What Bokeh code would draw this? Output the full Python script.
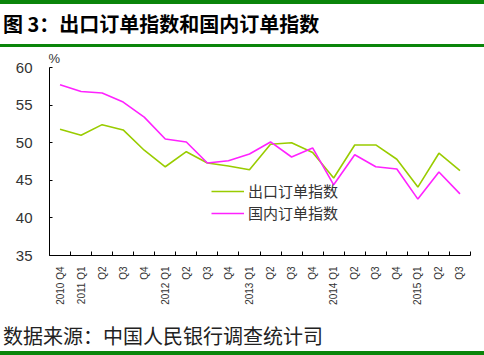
import math
from bokeh.plotting import figure
from bokeh.layouts import column
from bokeh.models import (Div, Title, FixedTicker, Range1d, Legend, LegendItem)
from bokeh.embed import file_html
from bokeh.resources import INLINE

quarters = ["2010 Q4", "2011 Q1", "Q2", "Q3", "Q4", "2012 Q1", "Q2", "Q3", "Q4",
            "2013 Q1", "Q2", "Q3", "Q4", "2014 Q1", "Q2", "Q3", "Q4", "2015 Q1", "Q2", "Q3"]
export_orders = [51.8, 51.0, 52.4, 51.7, 49.0, 46.8, 48.8, 47.3, 46.9, 46.4,
                 49.8, 50.0, 48.7, 45.3, 49.7, 49.7, 47.8, 44.1, 48.6, 46.3]
domestic_orders = [57.7, 56.8, 56.6, 55.4, 53.4, 50.5, 50.1, 47.3, 47.6, 48.5,
                   50.1, 48.1, 49.3, 44.4, 48.4, 46.8, 46.5, 42.5, 46.1, 43.2]
series_names = ["出口订单指数", "国内订单指数"]
y_ticks = [35, 40, 45, 50, 55, 60]
title_text = "图 3：出口订单指数和国内订单指数"
source_text = "数据来源：中国人民银行调查统计司"

W = 484
GREEN = "#0A850A"
TOP_H, FIG_H, BOT_H = 47, 266, 42

p = figure(width=W, height=FIG_H, output_backend="svg", toolbar_location=None,
           x_range=Range1d(-0.5, len(quarters) - 0.5), y_range=Range1d(35, 60),
           min_border_left=49, min_border_right=14, min_border_top=20, min_border_bottom=58)
p.title = Title(text="%", align="left", offset=-1, standoff=3,
                text_font="Liberation Sans", text_font_size="13px",
                text_font_style="normal", text_color="#333333")
p.outline_line_color = None
p.xgrid.visible = False
p.ygrid.visible = False
p.background_fill_color = "white"
p.border_fill_color = "white"

xs = list(range(len(quarters)))
r1 = p.line(xs, export_orders, line_color="#99CC00", line_width=1.6)
r2 = p.line(xs, domestic_orders, line_color="#FF22FF", line_width=1.6)

legend = Legend(items=[LegendItem(label=series_names[0], renderers=[r1]),
                       LegendItem(label=series_names[1], renderers=[r2])],
                location=(162, 32), background_fill_alpha=0, border_line_color=None,
                label_text_font="Noto Sans CJK SC", label_text_font_size="15px",
                label_text_color="#333333", glyph_width=33, spacing=1, padding=0, margin=0,
                label_standoff=4)
p.add_layout(legend, "center")

xa = p.xaxis[0]
xa.ticker = FixedTicker(ticks=xs, minor_ticks=[i - 0.5 for i in range(len(quarters) + 1)])
xa.major_label_overrides = {i: q for i, q in enumerate(quarters)}
xa.major_label_orientation = math.pi / 2
xa.major_tick_in = 0
xa.major_tick_out = 0
xa.minor_tick_in = 4
xa.minor_tick_out = 0
xa.axis_line_color = "black"
xa.major_label_text_font = "Liberation Sans"
xa.major_label_text_font_size = "10px"
xa.major_label_text_color = "#333333"
xa.major_label_standoff = 11

ya = p.yaxis[0]
ya.ticker = FixedTicker(ticks=y_ticks)
ya.minor_tick_line_color = None
ya.major_tick_in = 3
ya.major_tick_out = 0
ya.major_label_standoff = 17
ya.major_label_text_font = "Liberation Sans"
ya.major_label_text_font_size = "15px"
ya.major_label_text_color = "#333333"

top = Div(text=title_text, width=W, height=TOP_H, margin=0,
          styles={"box-sizing": "border-box", "border-top": f"4px solid {GREEN}",
                  "border-bottom": f"3px solid {GREEN}", "padding-left": "3px",
                  "font-family": "'Noto Sans CJK SC'", "font-size": "20px",
                  "font-weight": "bold", "line-height": "40px", "color": "black",
                  "background": "white", "white-space": "nowrap"})
bottom = Div(text=source_text, width=W, height=BOT_H, margin=0,
             styles={"box-sizing": "border-box", "border-bottom": f"4px solid {GREEN}",
                     "padding-left": "3px", "padding-top": "8px",
                     "font-family": "'Noto Sans CJK SC'", "font-size": "20px",
                     "line-height": "30px", "color": "#222222",
                     "background": "white", "white-space": "nowrap"})
p.margin = 0
layout = column(top, p, bottom, spacing=0)

open("out.html", "w").write(file_html(layout, INLINE))
